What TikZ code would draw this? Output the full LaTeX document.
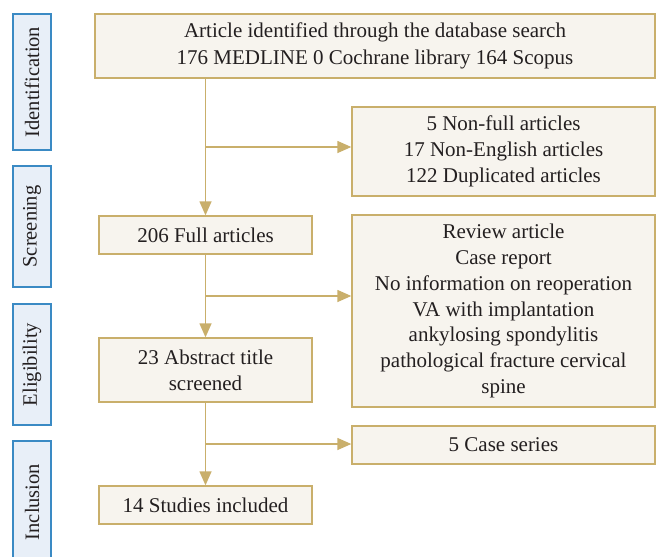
\documentclass[tikz,border=0pt]{standalone}
\usepackage{fontspec}
\setmainfont{Liberation Serif}
\usetikzlibrary{arrows.meta}
\definecolor{boxfill}{HTML}{F7F4EE}
\definecolor{boxline}{HTML}{C9AF6B}
\definecolor{stagefill}{HTML}{E8EFF8}
\definecolor{stageline}{HTML}{3A8AC4}
\definecolor{txt}{HTML}{231F20}
\tikzset{
  mainbox/.style={draw=boxline, fill=boxfill, line width=1.3pt, inner sep=0pt, align=center, text=txt,
    font=\fontsize{21}{25.8}\selectfont},
  stagebox/.style={draw=stageline, fill=stagefill, line width=1.3pt, inner sep=0pt},
  stagelabel/.style={rotate=90, inner sep=0pt, text=txt, font=\fontsize{20.5}{24}\selectfont},
  flow/.style={draw=boxline, line width=1.3pt},
  arr/.style={flow, -{Triangle[length=14pt,width=12pt]}}
}
\begin{document}
\begin{tikzpicture}[x=1pt,y=-1pt]
\useasboundingbox (0,0) rectangle (657,557);
\clip (0,0) rectangle (657,557);
% stage boxes
\node[stagebox, minimum width=38pt, minimum height=136pt] (s1) at (32,82) {};
\node[stagelabel] (l1) at (s1.center) {Identification};
\node[stagebox, minimum width=38pt, minimum height=121pt] (s2) at (32,226.5) {};
\node[stagelabel] (l2) at (s2.center) {Screening};
\node[stagebox, minimum width=38pt, minimum height=121pt] (s3) at (32,364.5) {};
\node[stagelabel] (l3) at (s3.center) {Eligibility};
\node[stagebox, minimum width=38pt, minimum height=122pt] (s4) at (32,502) {};
\node[stagelabel] (l4) at (s4.center) {Inclusion};
% main boxes
\node[mainbox, minimum width=560pt, minimum height=64pt] (top) at (375,46)
  {Article identified through the database search\\[1pt]176 MEDLINE 0 Cochrane library 164 Scopus};
\node[mainbox, minimum width=303pt, minimum height=89pt] (ex1) at (503.5,151.5)
  {5 Non-full articles\\17 Non-English articles\\122 Duplicated articles};
\node[mainbox, minimum width=213pt, minimum height=38pt] (full) at (205.5,235) {206 Full articles};
\node[mainbox, minimum width=303pt, minimum height=192pt] (ex2) at (503.5,311)
  {Review article\\Case report\\No information on reoperation\\VA with implantation\\ankylosing spondylitis\\pathological fracture cervical\\spine};
\node[mainbox, minimum width=213pt, minimum height=64pt] (abs) at (205.5,370)
  {23 Abstract title\\screened};
\node[mainbox, minimum width=303pt, minimum height=38pt] (ex3) at (503.5,445) {5 Case series};
\node[mainbox, minimum width=213pt, minimum height=38pt] (inc) at (205.5,505) {14 Studies included};
% connectors
\coordinate (b1) at (205.5,147);
\coordinate (b2) at (205.5,296);
\coordinate (b3) at (205.5,444);
\draw[arr] (top.south -| b1) -- (full.north);
\draw[arr] (b1) -- (b1 -| ex1.west);
\draw[arr] (full.south) -- (abs.north);
\draw[arr] (b2) -- (b2 -| ex2.west);
\draw[arr] (abs.south) -- (inc.north);
\draw[arr] (b3) -- (b3 -| ex3.west);
\end{tikzpicture}
\end{document}
